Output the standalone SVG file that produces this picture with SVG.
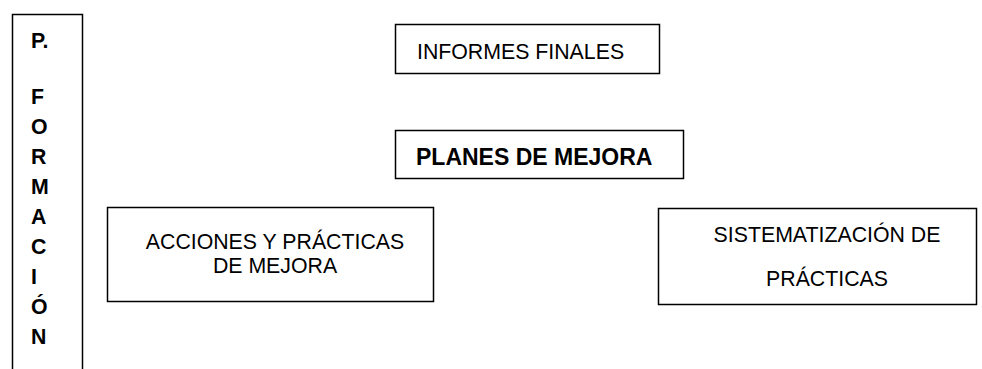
<svg xmlns="http://www.w3.org/2000/svg" width="982" height="369" viewBox="0 0 982 369">
<style>
.box{fill:#fff;stroke:#000;stroke-width:1.5}
.t{font-family:"Liberation Sans",Arial,sans-serif;font-size:21.3px;fill:#000}
.b{font-weight:bold}
.c{text-anchor:middle}
</style>
<rect width="982" height="369" fill="#fff"/>
<g id="formacion">
<rect class="box" x="12.5" y="14.5" width="70" height="360"/>
<text class="t b" x="31" y="48">P.</text>
<text class="t b" x="31" y="104">F</text>
<text class="t b" x="31" y="134">O</text>
<text class="t b" x="31" y="164">R</text>
<text class="t b" x="31" y="194">M</text>
<text class="t b" x="31" y="224">A</text>
<text class="t b" x="31" y="254">C</text>
<text class="t b" x="31" y="284">I</text>
<text class="t b" x="31" y="314">Ó</text>
<text class="t b" x="31" y="344">N</text>
</g>
<g id="informes">
<rect class="box" x="395.5" y="24.5" width="264" height="49"/>
<text class="t" x="417" y="59">INFORMES FINALES</text>
</g>
<g id="planes">
<rect class="box" x="395.5" y="130.5" width="288" height="48"/>
<text class="t b" x="416" y="165" style="font-size:23px">PLANES DE MEJORA</text>
</g>
<g id="acciones">
<rect class="box" x="107.5" y="207.5" width="326" height="94"/>
<text class="t c" x="275" y="249">ACCIONES Y PRÁCTICAS</text>
<text class="t c" x="275" y="273">DE MEJORA</text>
</g>
<g id="sistematizacion">
<rect class="box" x="658.5" y="208.5" width="318" height="96"/>
<text class="t c" x="827" y="242">SISTEMATIZACIÓN DE</text>
<text class="t c" x="827" y="286">PRÁCTICAS</text>
</g>
<g id="connectors"></g>
</svg>
